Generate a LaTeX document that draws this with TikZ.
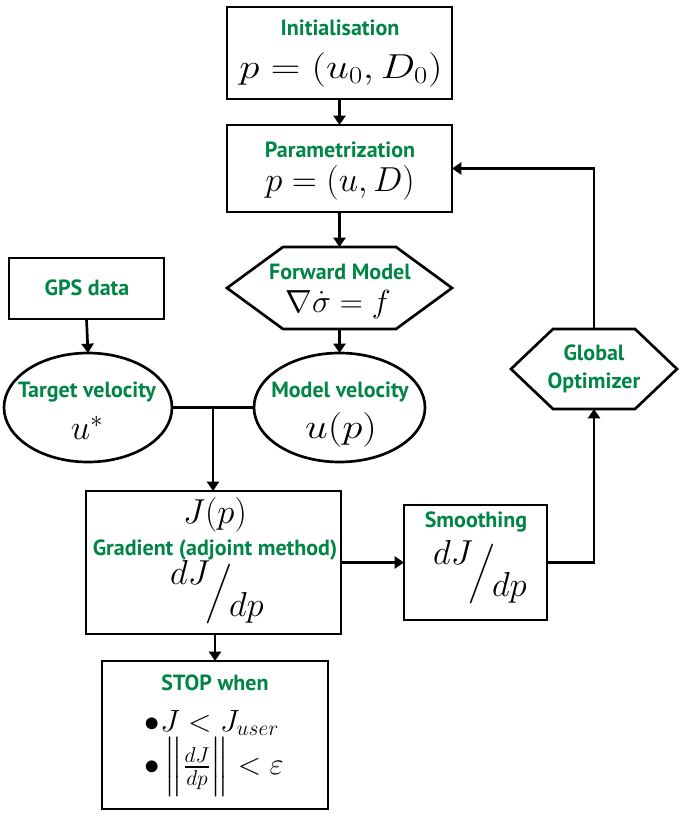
\RequirePackage{fix-cm}
\documentclass[tikz,border=0pt]{standalone}
\usepackage{amsmath}
\usepackage{fontspec}
\newfontfamily\labfont{PT Sans}
\usetikzlibrary{arrows.meta,calc,shapes.geometric}
\definecolor{lgreen}{RGB}{0,133,70}
\newcommand\myfrac{\raisebox{0.42em}{$dJ$}\kern-0.12em\raisebox{-0.12em}{$\Big/$}\kern-0.1em\raisebox{-0.5em}{$dp$}}
\newcommand\wide[1]{\scalebox{1.18}[1]{#1}}
\tikzset{
  every node/.style={inner sep=0pt, outer sep=0pt},
  box/.style={draw=black, line width=2pt, rectangle},
  ell/.style={draw=black, line width=2pt, ellipse},
  hexn/.style={rectangle},
  lab/.style={text=lgreen, font=\labfont\bfseries\fontsize{16.5}{21.5}\selectfont, align=center},
  mth/.style={font=\fontsize{26}{30}\selectfont},
  smth/.style={font=\fontsize{23}{27}\selectfont},
  arr/.style={line width=2pt, -{Triangle[length=7pt,width=9pt]}},
  conn/.style={line width=2pt}
}
\begin{document}
\begin{tikzpicture}[x=0.75pt,y=-0.75pt]
\useasboundingbox (0,0) rectangle (680,820);
\fill[white] (0,0) rectangle (680,820);

% shapes
\node[box, minimum width=168.75pt, minimum height=69pt] (init) at (339.5,53) {};
\node[box, minimum width=168.75pt, minimum height=65.25pt] (param) at (339.5,168.5) {};
\node[hexn, minimum width=168.75pt, minimum height=61.5pt] (fm) at (339.5,288) {};
\draw[conn] (fm.west) -- ([xshift=42pt]fm.north west) -- ([xshift=-42pt]fm.north east) -- (fm.east) -- ([xshift=-42pt]fm.south east) -- ([xshift=42pt]fm.south west) -- cycle;
\node[box, minimum width=116.25pt, minimum height=45.75pt] (gps) at (86.5,288.5) {};
\node[ell, minimum width=126pt, minimum height=81.75pt] (target) at (88,407.5) {};
\node[ell, minimum width=128.25pt, minimum height=81.75pt] (model) at (339.5,407.5) {};
\node[box, minimum width=191.25pt, minimum height=107.25pt] (grad) at (213.5,562.5) {};
\node[box, minimum width=107.25pt, minimum height=86.25pt] (smooth) at (475.5,562.5) {};
\node[hexn, minimum width=124.5pt, minimum height=60pt] (glob) at (594,369) {};
\draw[conn] (glob.west) -- ([xshift=31.5pt]glob.north west) -- ([xshift=-31.5pt]glob.north east) -- (glob.east) -- ([xshift=-31.5pt]glob.south east) -- ([xshift=31.5pt]glob.south west) -- cycle;
\node[box, minimum width=169.5pt, minimum height=111pt] (stop) at (215,735) {};

% texts
\node[lab] (initT) at (340,28) {Initialisation};
\node[mth] (initM) at (341,70) {\wide{$p=(u_0,D_0)$}};
\node[lab] (parT) at (340,150) {Parametrization};
\node[mth] (parM) at (340,183) {$p=(u,D)$};
\node[lab] (fmT) at (340,272) {Forward Model};
\node[font=\fontsize{24}{28}\selectfont] (fmM) at (338,304) {$\nabla\dot{\sigma}=f$};
\node[lab] (gpsT) at (87,288) {GPS data};
\node[lab] (tgT) at (87,392) {Target velocity};
\node[mth] (tgM) at (87,428) {$u^{*}$};
\node[lab] (mdT) at (340,392) {Model velocity};
\node[mth] (mdM) at (341,430) {\wide{$u(p)$}};
\node[lab] (gloT) at (594,369) {Global\\Optimizer};
\node[mth] (gradJ) at (215,515) {$J(p)$};
\node[lab] (gradT) at (215,550) {Gradient (adjoint method)};
\node[mth] (gradD) at (217,593) {\myfrac};
\node[lab] (smT) at (476,522) {Smoothing};
\node[mth] (smD) at (480,573) {\myfrac};
\node[lab] (stT) at (215,683) {STOP when};
\node[smth] (st1) at (212,723) {$\bullet J<J_{user}$};
\node[smth] (st2) at (214,767) {$\bullet\left\|\frac{dJ}{dp}\right\|<\varepsilon$};

% connectors
\draw[arr] (init.south) -- (param.north);
\draw[arr] (param.south) -- (fm.north);
\draw[arr] (fm.south) -- (model.north);
\draw[arr] (gps.south) -- (target.north);
\coordinate (junc) at ($(target.east)!0.5!(model.west)$);
\draw[conn] (target.east) -- (model.west);
\draw[arr] (junc) -- (junc |- grad.north);
\draw[arr] (grad.east) -- (smooth.west);
\draw[arr] (grad.south -| stop.north) -- (stop.north);
\draw[arr] (smooth.east) -| (glob.south);
\draw[arr] (glob.north) |- (param.east);
\end{tikzpicture}
\end{document}
